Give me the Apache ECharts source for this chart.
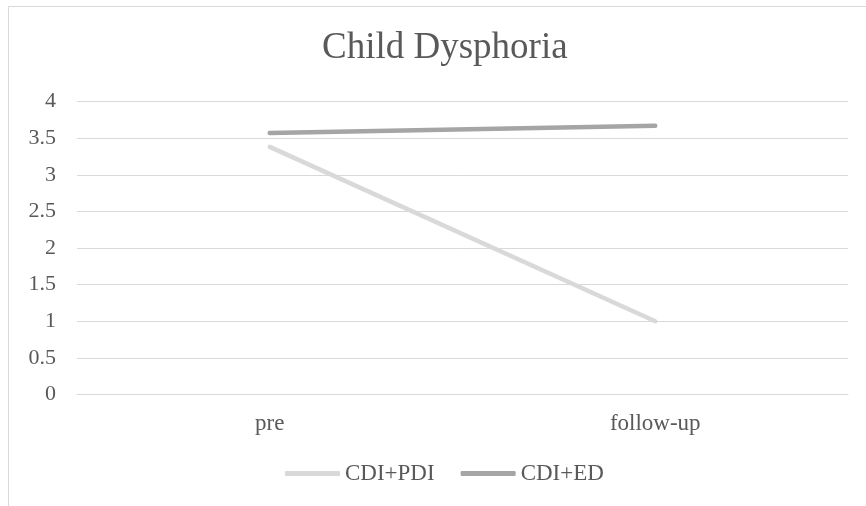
<!DOCTYPE html>
<html>
<head>
<meta charset="utf-8">
<title>Child Dysphoria</title>
<script src="https://cdn.jsdelivr.net/npm/echarts@6/dist/echarts.min.js"></script>
<style>
  html, body { margin: 0; padding: 0; background: #fff; }
  #chart { width: 866px; height: 506px; }
</style>
</head>
<body>
<div id="chart"></div>
<script>
// Time points on the x axis
const timePoints = ['pre', 'follow-up'];
// Mean dysphoria score per group
const cdiPdi = [3.38, 1.0];
const cdiEd = [3.57, 3.67];
// Value axis range
const yMin = 0, yMax = 4, yStep = 0.5;

const serif = '"Times New Roman", "Liberation Serif", serif';
const textColor = '#595959';
const gridColor = '#d9d9d9';

const chart = echarts.init(document.getElementById('chart'), null, { renderer: 'canvas' });

chart.setOption({
  backgroundColor: '#ffffff',
  animation: false,
  graphic: [{
    type: 'rect',
    silent: true,
    shape: { x: 8.5, y: 6.5, width: 1200, height: 1200 },
    style: { fill: 'none', stroke: gridColor, lineWidth: 1 }
  }],
  title: {
    text: 'Child Dysphoria',
    left: 322,
    top: 30,
    padding: 0,
    textStyle: { fontFamily: serif, fontSize: 37, fontWeight: 'normal', color: textColor }
  },
  legend: {
    left: 285,
    top: 462,
    padding: 0,
    itemWidth: 55,
    itemHeight: 5,
    itemGap: 26,
    icon: 'roundRect',
    textStyle: { fontFamily: serif, fontSize: 23, color: textColor },
    data: ['CDI+PDI', 'CDI+ED']
  },
  grid: { left: 77, right: 18, top: 101.5, bottom: 111.5 },
  xAxis: {
    type: 'category',
    data: timePoints,
    boundaryGap: true,
    axisLine: { show: true, lineStyle: { color: gridColor, width: 1 } },
    axisTick: { show: false },
    axisLabel: { fontFamily: serif, fontSize: 23, color: textColor, margin: 18 }
  },
  yAxis: {
    type: 'value',
    min: yMin,
    max: yMax,
    interval: yStep,
    axisLine: { show: false },
    axisTick: { show: false },
    axisLabel: { fontFamily: serif, fontSize: 22, color: textColor, margin: 21 },
    splitLine: { show: true, lineStyle: { color: gridColor, width: 1 } }
  },
  series: [
    {
      name: 'CDI+PDI',
      type: 'line',
      data: cdiPdi,
      symbol: 'none',
      color: '#d9d9d9',
      lineStyle: { width: 4.5, color: '#d9d9d9', cap: 'round' }
    },
    {
      name: 'CDI+ED',
      type: 'line',
      data: cdiEd,
      symbol: 'none',
      color: '#a5a5a5',
      lineStyle: { width: 4.5, color: '#a5a5a5', cap: 'round' }
    }
  ]
});
</script>
</body>
</html>
